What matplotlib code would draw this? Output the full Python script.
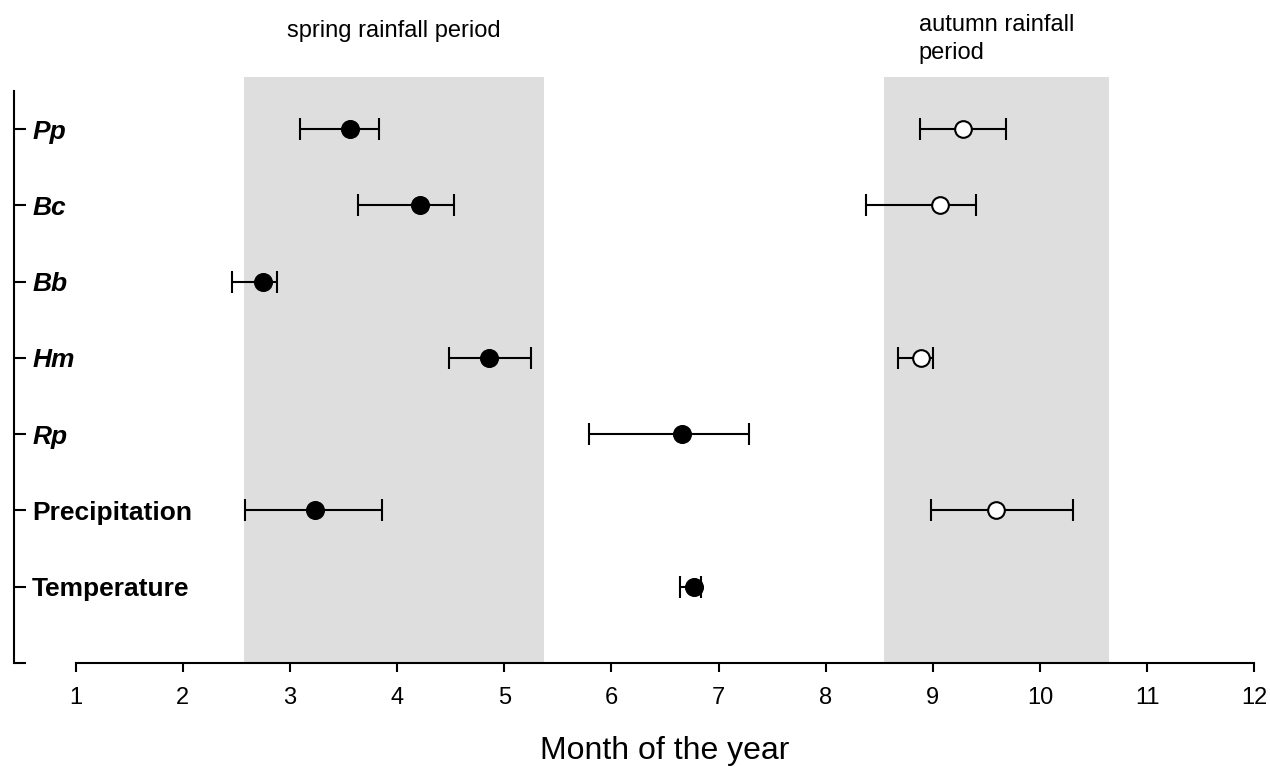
import matplotlib
matplotlib.use("Agg")
import matplotlib.pyplot as plt
import numpy as np

plt.rcParams['font.family'] = ['Liberation Sans', 'DejaVu Sans']

# ---- data ----
categories = ["Pp", "Bc", "Bb", "Hm", "Rp", "Precipitation", "Temperature"]
italic_flags = [True, True, True, True, True, False, False]

# spring (filled) peak: mean, lower end, upper end  (month of year)
spring_mean = [3.56, 4.21, 2.75, 4.86, 6.66, 3.23, 6.77]
spring_low = [3.09, 3.63, 2.46, 4.48, 5.79, 2.58, 6.64]
spring_high = [3.83, 4.53, 2.88, 5.25, 7.28, 3.86, 6.84]

# autumn (open) peak: None where absent
autumn_mean = [9.28, 9.07, None, 8.89, None, 9.59, None]
autumn_low = [8.88, 8.38, None, 8.67, None, 8.98, None]
autumn_high = [9.68, 9.40, None, 9.00, None, 10.31, None]

spring_period = (2.573, 5.370)
autumn_period = (8.544, 10.641)
month_ticks = list(range(1, 13))

# ---- figure ----
fig = plt.figure(figsize=(12.7, 7.67), dpi=100)
ax = fig.add_axes([14 / 1270, 1 - 663 / 767, (1254.3 - 14) / 1270, (663 - 91) / 767])

n = len(categories)
ypos = np.arange(n, 0, -1)  # Pp at top

ax.set_xlim(0.424, 12)
ax.set_ylim(0, 7.5)

shade = '#dedede'
for (a, b) in [spring_period, autumn_period]:
    ax.add_patch(plt.Rectangle((a, 0), b - a, 7.683, facecolor=shade,
                               edgecolor='none', clip_on=False, zorder=0))

sm = np.array(spring_mean)
sl = np.array(spring_low)
sh = np.array(spring_high)
ax.errorbar(sm, ypos, xerr=[sm - sl, sh - sm], fmt='none', ecolor='black',
            elinewidth=1.5, capsize=7.8, capthick=1.5, zorder=2)
ax.plot(sm, ypos, 'o', color='black', markersize=12.7, zorder=3, linestyle='none')

idx = [i for i, v in enumerate(autumn_mean) if v is not None]
am = np.array([autumn_mean[i] for i in idx])
al = np.array([autumn_low[i] for i in idx])
ah = np.array([autumn_high[i] for i in idx])
ay = ypos[idx]
ax.errorbar(am, ay, xerr=[am - al, ah - am], fmt='none', ecolor='black',
            elinewidth=1.5, capsize=7.8, capthick=1.5, zorder=2)
ax.plot(am, ay, 'o', markerfacecolor='white', markeredgecolor='black',
        markeredgewidth=1.5, markersize=12, zorder=3, linestyle='none')

# period labels
ax.text(sum(spring_period) / 2, 8.286, "spring rainfall period", ha='center',
        va='center', fontsize=17, clip_on=False)
ax.text(sum(autumn_period) / 2, 8.181, "autumn rainfall\nperiod", ha='center',
        va='center', multialignment='left', fontsize=17, linespacing=1.32,
        clip_on=False)

# spines
for s in ['top', 'right']:
    ax.spines[s].set_visible(False)
ax.spines['left'].set_linewidth(1.5)
ax.spines['bottom'].set_linewidth(1.5)
ax.spines['bottom'].set_bounds(1, 12)

ax.set_xticks(month_ticks)
ax.set_xticklabels([str(m) for m in month_ticks], fontsize=17)
ax.tick_params(axis='x', direction='out', length=6.2, width=1.5, pad=11)

ax.set_yticks(list(ypos) + [0])
ax.set_yticklabels(categories + [''])
ax.tick_params(axis='y', direction='in', length=8.6, width=1.5, pad=-13)
for lab, it in zip(ax.get_yticklabels(), italic_flags + [False]):
    lab.set_horizontalalignment('left')
    lab.set_fontweight('bold')
    lab.set_fontsize(19)
    if it:
        lab.set_fontstyle('italic')

ax.set_xlabel("Month of the year", fontsize=23)
ax.xaxis.set_label_coords((664.5 - 14) / (1254.3 - 14), -(736 - 663) / 572)

fig.savefig("out.png", dpi=100)
